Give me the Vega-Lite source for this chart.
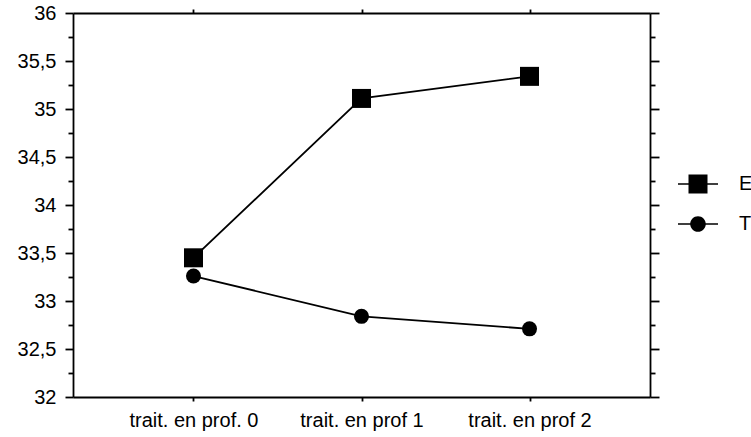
{
  "$schema": "https://vega.github.io/schema/vega-lite/v6.json",
  "width": 577,
  "height": 384,
  "autosize": "none",
  "padding": {"left": 73, "top": 13, "right": 101, "bottom": 40},
  "background": "white",
  "config": {
    "view": {"stroke": null},
    "font": "Liberation Sans",
    "axis": {
      "domainColor": "black",
      "domainWidth": 1.8,
      "tickColor": "black",
      "tickWidth": 1.8,
      "labelColor": "black",
      "labelFont": "Liberation Sans",
      "grid": false,
      "title": null
    }
  },
  "data": {
    "values": [
      {"cond": "trait. en prof. 0", "series": "E", "value": 33.45},
      {"cond": "trait. en prof 1", "series": "E", "value": 35.11},
      {"cond": "trait. en prof 2", "series": "E", "value": 35.34},
      {"cond": "trait. en prof. 0", "series": "T", "value": 33.26},
      {"cond": "trait. en prof 1", "series": "T", "value": 32.84},
      {"cond": "trait. en prof 2", "series": "T", "value": 32.71}
    ]
  },
  "layer": [
    {
      "mark": {"type": "line", "color": "black", "strokeWidth": 1.8},
      "encoding": {
        "x": {
          "field": "cond", "type": "nominal", "sort": null,
          "scale": {"type": "point", "padding": 0.717},
          "axis": {"orient": "top", "labels": false, "tickSize": 4, "domain": true}
        },
        "y": {
          "field": "value", "type": "quantitative",
          "scale": {"domain": [32, 36], "nice": false, "zero": false},
          "axis": {
            "orient": "right", "labels": false,
            "values": [32, 32.25, 32.5, 32.75, 33, 33.25, 33.5, 33.75, 34, 34.25, 34.5, 34.75, 35, 35.25, 35.5, 35.75, 36],
            "tickSize": {"condition": {"test": "datum.value % 0.5 === 0", "value": 9}, "value": 5}
          }
        },
        "detail": {"field": "series"}
      }
    },
    {
      "transform": [{"filter": "datum.series === 'E'"}],
      "mark": {"type": "point", "shape": "square", "size": 361, "filled": true, "color": "black", "opacity": 1},
      "encoding": {
        "x": {
          "field": "cond", "type": "nominal", "sort": null,
          "axis": {"orient": "bottom", "labelAngle": 0, "labelFontSize": 20, "tickSize": 4, "labelPadding": 9}
        },
        "y": {
          "field": "value", "type": "quantitative",
          "axis": {
            "orient": "left",
            "values": [32, 32.25, 32.5, 32.75, 33, 33.25, 33.5, 33.75, 34, 34.25, 34.5, 34.75, 35, 35.25, 35.5, 35.75, 36],
            "labelExpr": "datum.value % 0.5 === 0 ? replace(format(datum.value, '.1~f'), '.', ',') : ''",
            "labelFontSize": 20,
            "labelPadding": 9,
            "tickSize": {"condition": {"test": "datum.value % 0.5 === 0", "value": 8}, "value": 5}
          }
        }
      }
    },
    {
      "transform": [{"filter": "datum.series === 'T'"}],
      "mark": {"type": "point", "shape": "circle", "size": 225, "filled": true, "color": "black", "opacity": 1},
      "encoding": {
        "x": {"field": "cond", "type": "nominal", "sort": null, "axis": null},
        "y": {"field": "value", "type": "quantitative", "axis": null}
      }
    },
    {
      "transform": [{"filter": "datum.series === 'none'"}],
      "mark": {"type": "point", "filled": true, "color": "black", "opacity": 1, "size": 400},
      "encoding": {
        "x": {"field": "cond", "type": "nominal", "sort": null, "axis": null},
        "y": {"field": "value", "type": "quantitative", "axis": null},
        "shape": {
          "field": "series",
          "scale": {"domain": ["E", "T"], "range": ["M-2,-0.08H2V0.08H-2ZM-0.95,-0.95H0.95V0.95H-0.95Z", "M-2,-0.08H2V0.08H-2ZM0.78,0A0.78,0.78 0 1,1 -0.78,0A0.78,0.78 0 1,1 0.78,0Z"]},
          "legend": {
            "title": null,
            "orient": "none",
            "legendX": 614,
            "legendY": 160,
            "symbolOpacity": 1,
            "symbolFillColor": "black",
            "symbolSize": 400,
            "labelFontSize": 20,
            "labelColor": "black",
            "labelFont": "Liberation Sans",
            "labelOffset": 30,
            "rowPadding": 16
          }
        }
      }
    }
  ],
  "resolve": {"axis": {"x": "independent", "y": "independent"}}
}
